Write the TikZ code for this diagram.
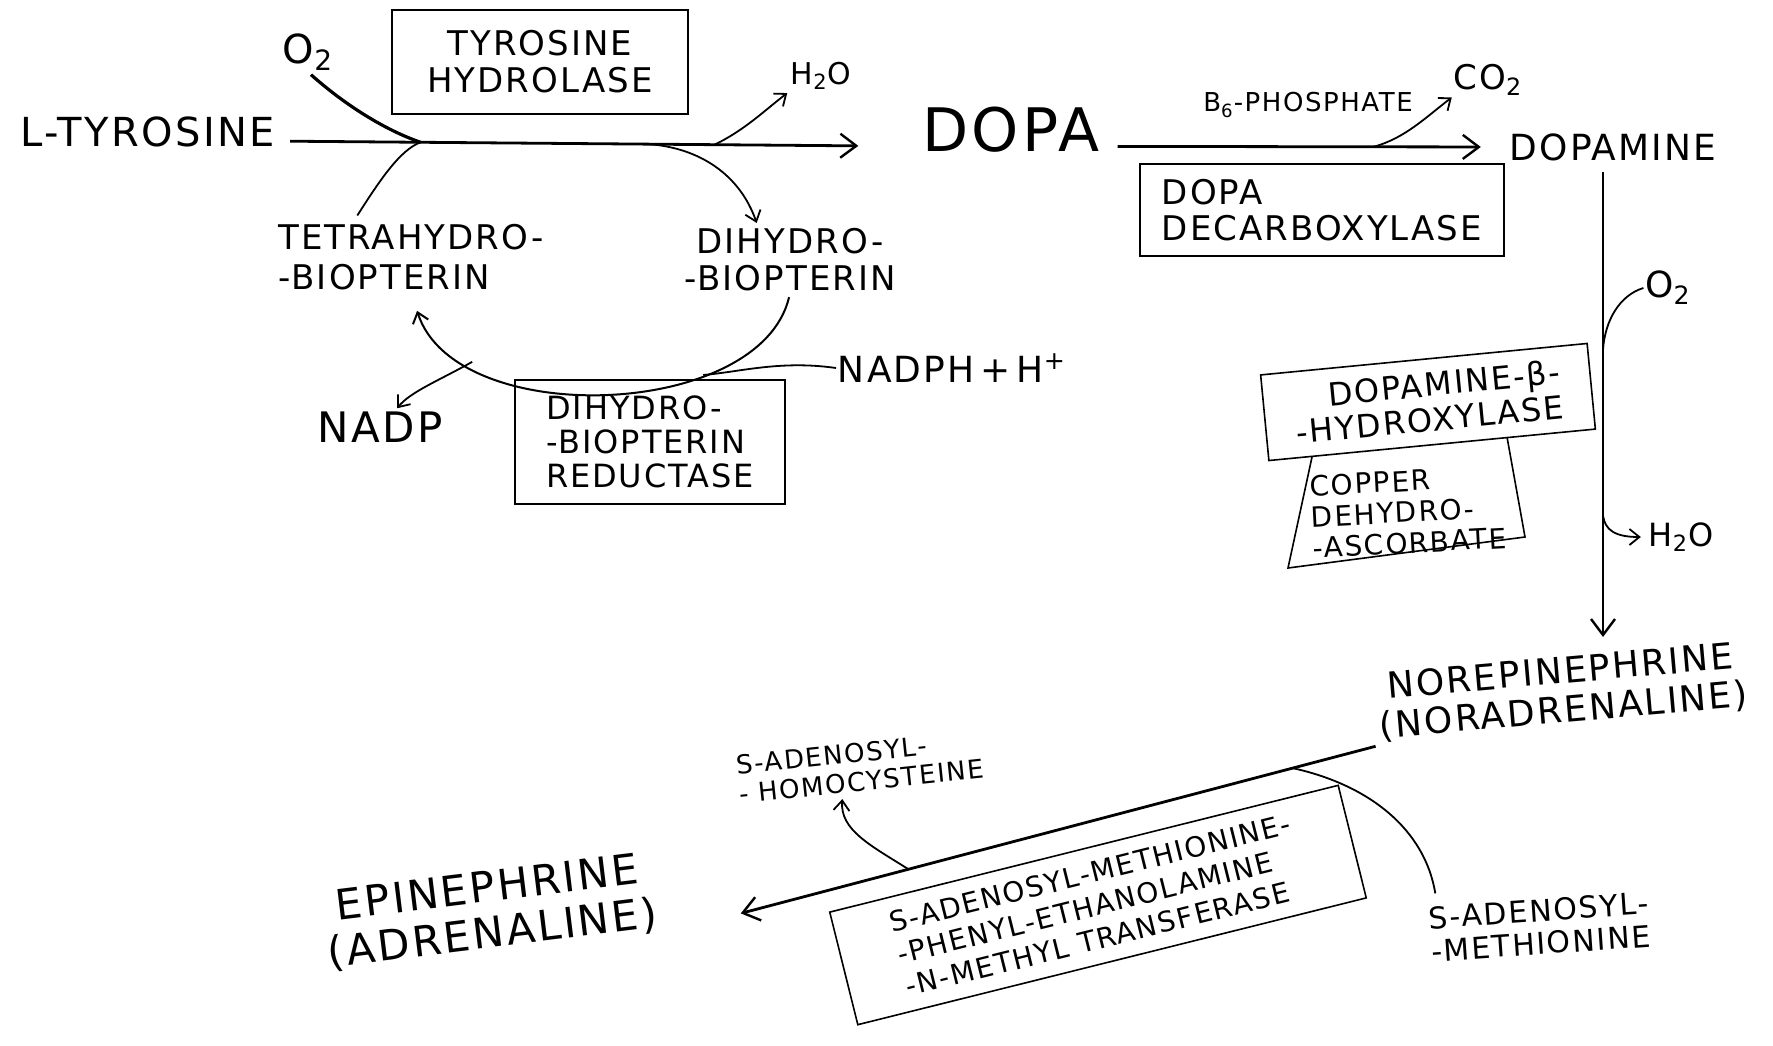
\documentclass[tikz,border=0pt]{standalone}
\usepackage{fontspec}
\setmainfont{DejaVu Sans}[LetterSpace=6]
\usetikzlibrary{arrows.meta}

\newcommand{\handfont}[2]{\fontsize{#1}{#2}\selectfont}

\begin{document}
\begin{tikzpicture}[x=0.5pt,y=0.5pt,yscale=-1,xscale=1,
  chem/.style={inner sep=0.75pt},
  enzyme/.style={draw,line width=0.8pt,inner sep=3pt},
  pathway/.style={line width=1.4pt,-{Straight Barb[length=8pt,width=12pt,line width=1.2pt]}},
  branch/.style={line width=0.9pt},
  branchtip/.style={line width=0.9pt,-{Straight Barb[length=5pt,width=8pt]}}]
\useasboundingbox (0,0) rectangle (1773,1045);

% Text Node
\node [chem,font=\handfont{20}{22}] (tyr) at (148,132) {L-TYROSINE};
% Text Node
\node [chem,font=\handfont{20}{20}] (o2a) at (308,52) {O\textsubscript{2}};
%Shape: Rectangle
\node [enzyme,font=\handfont{17}{18.5},align=center,minimum width=148pt,minimum height=52pt] (tyrhyd) at (540,62) {TYROSINE\\HYDROLASE};
% Text Node
\node [chem,font=\handfont{15}{15}] (h2oa) at (821,76) {H\textsubscript{2}O};
% Text Node
\node [chem,font=\handfont{17}{20}] (tetra) at (411,257) [align=left] {TETRAHYDRO-\\-BIOPTERIN};
% Text Node
\node [chem,font=\handfont{17}{18.5},align=center] (dihydro) at (790,260) {DIHYDRO-\\-BIOPTERIN};
% Text Node
\node [chem,font=\handfont{30}{30}] (dopa) at (1011,130) {DOPA};
% Text Node
\node [chem,font=\handfont{13}{13}] (b6) at (1308,105) {B\textsubscript{6}-PHOSPHATE};
% Text Node
\node [chem,font=\handfont{17}{17}] (co2) at (1488,80) {CO\textsubscript{2}};
% Text Node
\node [chem,font=\handfont{18}{18}] (dopamine) at (1613,147) {DOPAMINE};
%Shape: Rectangle
\node [enzyme,font=\handfont{17}{18},align=left,minimum width=182pt,minimum height=46pt] (ddc) at (1322,210) {DOPA\\DECARBOXYLASE};
% Text Node
\node [chem,font=\handfont{18}{18}] (nadph) at (952,368) {NADPH\,+\,H\textsuperscript{+}};
% Text Node
\node [chem,font=\handfont{21}{21}] (nadp) at (380,427) {NADP};
%Shape: Rectangle
\node [enzyme,font=\handfont{16}{17},align=left,minimum width=135pt,minimum height=62pt] (dhpr) at (650,442) {DIHYDRO-\\-BIOPTERIN\\REDUCTASE};
% Text Node
\node [chem,font=\handfont{18}{18}] (o2b) at (1668,288) {O\textsubscript{2}};
%Shape: Rectangle
\node [enzyme,font=\handfont{16}{17.5},align=right,rotate=5.5,minimum width=164pt,minimum height=43pt] (dbh) at (1428,402) {DOPAMINE-β-\\-HYDROXYLASE};
% Text Node
\node [chem,font=\handfont{14}{15.5},align=left,rotate=3] (copper) at (1408,512) {COPPER\\DEHYDRO-\\-ASCORBATE};
% Text Node
\node [chem,font=\handfont{16}{16}] (h2ob) at (1681,537) {H\textsubscript{2}O};
% Text Node
\node [chem,font=\handfont{18}{19.5},align=center,rotate=5] (norepi) at (1562,692) {NOREPINEPHRINE\\(NORADRENALINE)};
% Text Node
\node [chem,font=\handfont{13}{14.5},align=left,rotate=6] (sah) at (860,767) {S-ADENOSYL-\\- HOMOCYSTEINE};
% Text Node
\node [chem,font=\handfont{15}{16.5},align=left,rotate=4] (sam) at (1540,927) {S-ADENOSYL-\\-METHIONINE};
%Shape: Rectangle
\node [enzyme,font=\handfont{14}{16.5},align=left,rotate=14,minimum width=262pt,minimum height=58pt] (pnmt) at (1098,905) {S-ADENOSYL-METHIONINE-\\-PHENYL-ETHANOLAMINE\\-N-METHYL TRANSFERASE};
% Text Node
\node [chem,font=\handfont{21}{23},align=center,rotate=7] (epi) at (490,912) {EPINEPHRINE\\(ADRENALINE)};

%Straight Lines
\draw [pathway,shorten <=6.5pt,shorten >=31pt] (tyr.mid east) -- (dopa.mid west) coordinate[pos=0.223] (jo2) coordinate[pos=0.578] (jdh) coordinate[pos=0.68] (jh2o);
%Curve Lines
\draw [branch,line width=1.6pt,shorten <=2pt] (o2a.south) .. controls (345,105) and (385,130) .. (jo2);
\draw [branch,shorten <=4pt] ([xshift=-29pt]tetra.north) .. controls (380,180) and (400,150) .. (jo2);
\draw [branchtip,shorten >=2pt] (jdh) .. controls (700,148) and (740,175) .. ([xshift=-16pt]dihydro.north);
\draw [branchtip,shorten >=1pt] (jh2o) .. controls (745,130) and (765,110) .. (h2oa.south west);

%Straight Lines
\draw [pathway,shorten <=8pt,shorten >=13.5pt] (dopa.mid east) -- (dopamine.west) coordinate[pos=0.67] (jco2);
%Curve Lines
\draw [branchtip] (jco2) .. controls (1405,138) and (1425,118) .. (co2.south west);

%Straight Lines
\draw [pathway,shorten <=4.5pt,shorten >=9pt] ([xshift=-5pt]dopamine.south) -- ([xshift=-5pt]dopamine.south |- norepi.north) coordinate[pos=0.38] (jo2b) coordinate[pos=0.717] (jh2ob);
%Curve Lines
\draw [branch] (jo2b) .. controls (1605,320) and (1620,295) .. (o2b.west);
\draw [branchtip,shorten >=3pt] (jh2ob) .. controls (1605,530) and (1615,537) .. (h2ob.west);

%Straight Lines
\draw [pathway,shorten <=2pt,shorten >=41pt] (norepi.south west) -- (epi.south east) coordinate[pos=0.121] (jsam) coordinate[pos=0.656] (jsah);
%Curve Lines
\draw [branch,shorten >=2pt] (jsam) .. controls (1370,785) and (1425,830) .. ([xshift=-51pt]sam.north);
\draw [branchtip,shorten >=3pt] (jsah) .. controls (870,845) and (840,830) .. ([xshift=-10pt]sah.south);

%Curve Lines
\draw [branchtip,line width=1pt,shorten <=2pt,shorten >=10pt] (dihydro.south) .. controls (760,420) and (455,430) .. (tetra.south) coordinate[pos=0.3] (jnadph) coordinate[pos=0.78] (jnadp);
\draw [branch] (nadph.west) .. controls (780,360) and (740,372) .. (jnadph);
\draw [branchtip,shorten >=1pt] (jnadp) .. controls (440,380) and (410,392) .. ([xshift=8pt]nadp.north);

%Shape: Polygon
\draw [line width=0.8pt] (1312,457) -- (1288,568) -- (1525,537) -- (1507,437);

\end{tikzpicture}
\end{document}
